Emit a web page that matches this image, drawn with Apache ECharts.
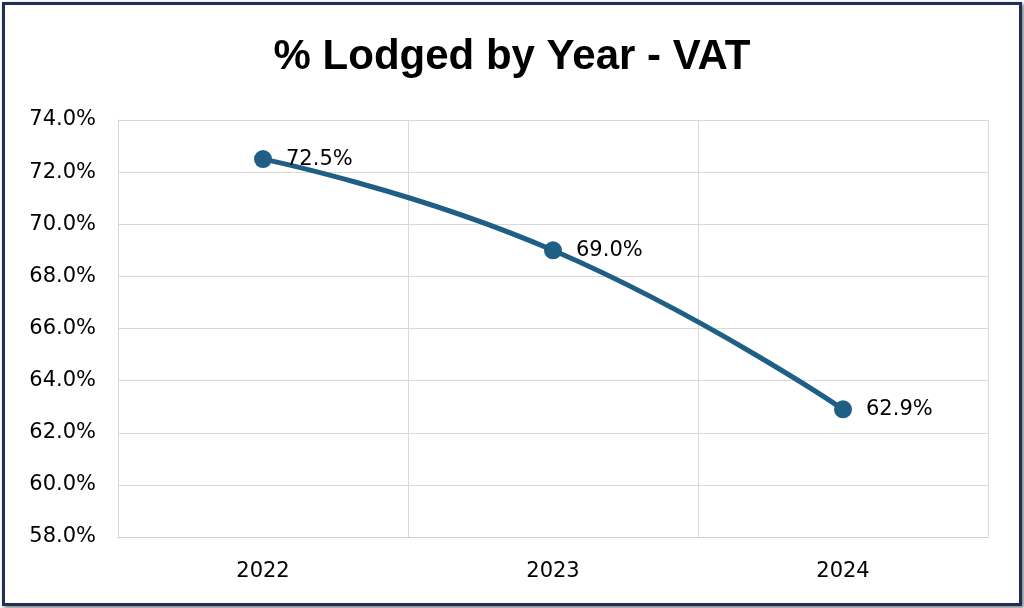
<!DOCTYPE html>
<html>
<head>
<meta charset="utf-8">
<script src="https://cdn.jsdelivr.net/npm/echarts@6/dist/echarts.min.js"></script>
<style>
html,body{margin:0;padding:0;background:#fff;}
#chartmain{position:absolute;left:2px;top:2px;width:1014px;height:598px;border:3px solid #1f2f5c;box-shadow:2px 2px 4px #777;}
</style>
</head>
<body>
<div id="chartmain"></div>
<script>
var years = ['2022', '2023', '2024'];
var lodged = [72.5, 69.0, 62.9];

var myChart = echarts.init(document.getElementById('chartmain'));
var option = {
	title : {
		text : '% Lodged by Year - VAT',
		left : 'center',
		top : 26,
		textStyle : { fontFamily : 'Liberation Sans', fontWeight : 'bold', fontSize : 42, color : '#000' }
	},
	grid : { left : 113, right : 31, top : 115, bottom : 66 },
	xAxis : [ {
		type : 'category',
		data : years,
		boundaryGap : true,
		axisLine : { lineStyle : { color : '#d0d0d0' } },
		axisTick : { show : false },
		splitLine : { show : true, lineStyle : { color : '#d9d9d9' } },
		axisLabel : { color : '#000', fontSize : 21, margin : 24, fontFamily : 'DejaVu Sans' }
	} ],
	yAxis : [ {
		type : 'value',
		min : 58, max : 74, interval : 2,
		axisLine : { show : true, lineStyle : { color : '#d9d9d9' } },
		splitLine : { lineStyle : { color : '#d9d9d9' } },
		axisLabel : { color : '#000', fontSize : 21, margin : 22, fontFamily : 'DejaVu Sans',
			formatter : function(v) { return v.toFixed(1) + '%'; } }
	} ],
	series : [ {
		type : 'line',
		data : lodged,
		smooth : true,
		symbol : 'circle',
		symbolSize : 18,
		lineStyle : { color : '#1f5f86', width : 5 },
		itemStyle : { color : '#1f5f86' },
		label : { show : true, position : 'right', distance : 14, color : '#000', fontSize : 21,
			fontFamily : 'DejaVu Sans', formatter : function(p) { return p.value.toFixed(1) + '%'; } }
	} ]
};
myChart.setOption(option);
</script>
</body>
</html>
